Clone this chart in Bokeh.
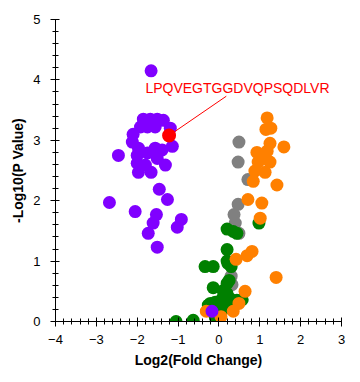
from bokeh.plotting import figure
from bokeh.models import Range1d, FixedTicker
from bokeh.embed import file_html
from bokeh.resources import INLINE
from bokeh.core.properties import value

# ---- data (log2 fold change, -log10 p value) ----
gray_x = [0.49, 0.47, 0.71, 0.47, 0.37, 0.40, 0.49, 0.30, 0.32]
gray_y = [2.97, 2.64, 2.35, 1.94, 1.77, 1.63, 1.46, 0.75, 0.61]

green_x = [0.98, 0.20, 0.35, 0.44, 0.20, 0.20, 0.30, -0.34, -0.14, -0.14, 0.20, 0.25,
           0.10, 0.20, 0.08, 0.27, -0.21, -0.09, 0.44, 0.57, -0.63, -1.05, -0.09, 0.22,
           -0.26, 0.15, 0.08, 0.27, 0.00, 0.15, 0.35]
green_y = [1.63, 1.53, 1.49, 1.46, 1.19, 1.00, 0.91, 0.91, 0.91, 0.56, 0.63, 0.68,
           0.51, 0.46, 0.38, 0.38, 0.30, 0.32, 0.35, 0.36, 0.02, 0.00, 0.07, 0.96,
           0.27, 0.40, 0.30, 0.32, 0.18, 0.22, 0.25]

orange_x = [1.18, 1.15, 1.27, 1.25, 1.59, 0.93, 1.18, 0.96, 1.25, 1.08, 0.88, 1.13,
            0.84, 1.42, 0.71, 1.05, 1.01, 0.81, 0.69, 0.42, 1.40, 0.64, 0.49, 0.35,
            -0.31, 0.05]
orange_y = [3.37, 3.18, 3.20, 2.95, 2.89, 2.80, 2.82, 2.64, 2.64, 2.69, 2.49, 2.47,
            2.32, 2.26, 2.02, 1.96, 1.71, 1.16, 1.09, 1.03, 0.73, 0.50, 0.30, 0.17,
            0.17, 0.08]

purple_x = [-1.66, -1.85, -1.68, -1.51, -1.36, -1.92, -1.75, -1.56, -1.19, -2.10,
            -2.12, -1.14, -1.97, -1.56, -2.46, -2.00, -1.75, -1.51, -1.39, -1.31,
            -2.00, -1.80, -1.97, -1.66, -1.46, -1.26, -2.68, -2.05, -1.53, -1.61,
            -0.92, -1.02, -1.73, -1.51, -0.17]
purple_y = [4.15, 3.35, 3.35, 3.35, 3.33, 3.22, 3.22, 3.22, 3.20, 3.10,
            2.97, 2.90, 2.87, 2.87, 2.75, 2.75, 2.79, 2.70, 2.84, 2.59,
            2.62, 2.59, 2.47, 2.47, 2.19, 2.02, 1.97, 1.82, 1.77, 1.63,
            1.69, 1.56, 1.46, 1.23, 0.17]

red_x = [-1.22]
red_y = [3.08]
label_text = ["LPQVEGTGGDVQPSQDLVR"]
label_x = [-1.80]
label_y = [3.86]
leader_x = [-1.22, 0.18]
leader_y = [3.08, 3.73]

x_ticks = [-4, -3, -2, -1, 0, 1, 2, 3]
y_ticks = [0, 1, 2, 3, 4, 5]

FONT = "Liberation Sans"

p = figure(width=352, height=374, output_backend="svg", toolbar_location=None,
           x_range=Range1d(-4, 3), y_range=Range1d(0, 5),
           min_border_left=55, min_border_right=11, min_border_top=19,
           min_border_bottom=53)
p.outline_line_color = None
p.xgrid.visible = False
p.ygrid.visible = False
p.background_fill_color = "white"

S = 13
p.scatter(gray_x, gray_y, size=S, fill_color="#808080", line_color=None)
p.scatter(green_x, green_y, size=S, fill_color="#008000", line_color=None)
p.scatter(orange_x, orange_y, size=S, fill_color="#FF8000", line_color=None)
p.scatter(purple_x, purple_y, size=S, fill_color="#8000FF", line_color=None)
p.line(leader_x, leader_y, line_color="#FF0000", line_width=1)
p.scatter(red_x, red_y, size=S + 1, fill_color="#FF0000", line_color=None)
p.text(x=label_x, y=label_y, text=label_text, text_color="#FF0000",
       text_font_size="14px", text_baseline="middle", text_align="left",
       text_font=value(FONT))

for ax in (p.xaxis[0], p.yaxis[0]):
    ax.axis_line_color = "black"
    ax.major_tick_line_color = "black"
    ax.minor_tick_line_color = "black"
    ax.major_tick_out = 5
    ax.major_tick_in = 4
    ax.minor_tick_out = 3
    ax.minor_tick_in = 3
    ax.major_label_text_font = FONT
    ax.major_label_text_font_size = "13px"
    ax.major_label_text_color = "black"
    ax.axis_label_text_font = FONT
    ax.axis_label_text_font_size = "14px"
    ax.axis_label_text_font_style = "bold"
    ax.axis_label_text_color = "black"

p.xaxis[0].ticker = FixedTicker(ticks=x_ticks,
                                minor_ticks=[t / 5 for t in range(-20, 16)])
p.yaxis[0].ticker = FixedTicker(ticks=y_ticks,
                                minor_ticks=[t / 5 for t in range(0, 26)])
p.xaxis[0].axis_label = "Log2(Fold Change)"
p.yaxis[0].axis_label = "-Log10(P Value)"
p.xaxis[0].major_label_standoff = 8
p.yaxis[0].major_label_standoff = 10
p.xaxis[0].axis_label_standoff = 5
p.yaxis[0].axis_label_standoff = 4

open("out.html", "w").write(file_html(p, INLINE))
